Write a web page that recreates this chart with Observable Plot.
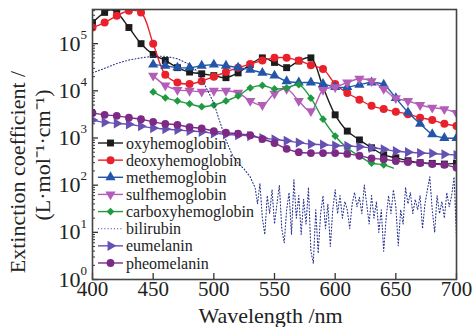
<!DOCTYPE html>
<html><head><meta charset="utf-8">
<script src="https://cdn.jsdelivr.net/npm/d3@7"></script>
<script src="https://cdn.jsdelivr.net/npm/@observablehq/plot@0.6"></script>
<style>body{margin:0;background:#fff}svg{display:block}</style>
</head><body><div id="chart"></div>
<script>
// ---- tick labels ----
const xTicks = [400, 450, 500, 550, 600, 650, 700];
const yTicks = [1, 10, 100, 1000, 10000, 100000];
const yExp = ["0", "1", "2", "3", "4", "5"];
const xTitle = "Wavelength /nm";
const yTitle1 = "Extinction coefficient /";
const yTitle2 = "(L·mol⁻¹·cm⁻¹)";

// ---- series ----
const names = ["oxyhemoglobin","deoxyhemoglobin","methemoglobin","sulfhemoglobin","carboxyhemoglobin","bilirubin","eumelanin","pheomelanin"];

const oxyWl = [400,410,415,420,430,440,450,460,470,480,490,500,510,520,530,540,550,560,570,580,590,600,610,620,630,640,650,660,670,680,690,700];
const oxyVal = [2.8e5,4.6e5,5.2e5,4.6e5,2.2e5,1.0e5,5.9e4,4.4e4,3.1e4,2.5e4,2.3e4,2.1e4,1.9e4,2.4e4,3.6e4,5.0e4,4.0e4,3.1e4,4.3e4,5.0e4,1.2e4,3.1e3,1.4e3,910,620,440,380,330,300,290,280,290];

const deoxyWl = [400,410,420,430,440,450,460,470,480,490,500,510,520,530,540,550,560,570,580,590,600,610,620,630,640,650,660,670,680,690,700];
const deoxyVal = [2.2e5,2.8e5,3.9e5,5.0e5,4.6e5,1.0e5,2.2e4,1.5e4,1.4e4,1.6e4,2.0e4,2.5e4,3.1e4,3.7e4,4.4e4,5.0e4,5.0e4,4.4e4,3.5e4,2.9e4,1.4e4,9.0e3,6.5e3,4.8e3,4.1e3,3.6e3,3.2e3,2.7e3,2.4e3,2.0e3,1.8e3];

const metWl = [450,460,470,480,490,500,510,520,530,540,550,560,570,580,590,600,610,620,630,640,650,660,670,680,690,700];
const metVal = [3.6e4,3.4e4,3.1e4,3.1e4,3.4e4,3.6e4,3.4e4,3.1e4,2.8e4,2.4e4,2.1e4,1.6e4,1.5e4,1.5e4,1.4e4,1.2e4,1.2e4,1.35e4,1.5e4,1.35e4,7.0e3,3.5e3,2.0e3,1.2e3,1.0e3,1.0e3];

const sulfWl = [450,460,470,480,490,500,510,520,530,540,550,560,570,580,590,600,610,620,630,640,650,660,670,680,690,700];
const sulfVal = [2.1e4,1.3e4,1.05e4,1.0e4,9.6e3,1.0e4,1.0e4,9.1e3,6.1e3,5.0e3,8.7e3,1.1e4,6.1e3,3.7e3,1.05e4,1.2e4,1.5e4,1.8e4,1.6e4,1.1e4,7.0e3,6.1e3,5.0e3,4.4e3,4.1e3,3.4e3];

const carbWl = [450,460,470,480,490,500,510,520,530,540,550,560,570,580,590,600,610,620,630,640,648];
const carbVal = [9.5e3,7.1e3,6.1e3,5.3e3,4.6e3,5.0e3,6.1e3,7.8e3,1.15e4,1.3e4,1.1e4,1.15e4,1.35e4,7.0e3,2.5e3,1.1e3,610,415,295,270,230];

const bilWl = [400,410,420,430,440,450,460,470,480,485,490,495,500,505,510,515,520,525,530,533,
  534,536,538,540,542,544,546,548,550,552,554,556,558,560,562,564,566,568,570,572,574,576,578,580,582,584,586,588,590,592,594,596,598,600,602,604,606,608,610,612,614,616,618,620,622,624,626,628,630,632,634,636,638,640,642,644,646,648,650,652,654,656,658,660,662,664,666,668,670,672,674,676,678,680,682,684,686,688,690,692,694,696,698,700];
const bilVal = [2.4e4,3.0e4,3.8e4,4.5e4,5.0e4,5.4e4,5.4e4,4.8e4,3.6e4,2.8e4,1.8e4,1.0e4,5.5e3,2.2e3,900,450,290,220,150,100,
  90,40,110,20,9,60,25,80,15,40,
  100,12,6,30,70,9,130,20,60,9,
  50,15,90,4,2.2,30,3.6,25,60,12,
  40,5,30,80,25,60,20,45,30,12,
  40,70,35,55,25,100,40,15,60,20,
  45,10,30,4,20,60,25,80,35,5.2,
  30,15,90,40,70,25,50,30,60,12,
  40,80,150,30,10,60,25,45,20,70,
  35,60,150,8];

const eumWl = [400,410,420,430,440,450,460,470,480,490,500,510,520,530,540,550,560,570,580,590,600,610,620,630,640,650,660,670,680,690,700];
const eumVal = [2400,2140,2040,1950,1780,1620,1550,1480,1410,1350,1260,1200,1150,1100,1000,930,870,800,740,720,690,680,650,620,575,525,500,480,470,450,435];

const pheoWl = [400,410,420,430,440,450,460,470,480,490,500,510,520,530,540,550,560,570,580,590,600,610,620,630,640,650,660,670,680,690,700];
const pheoVal = [3400,3100,2950,2700,2500,2200,2000,1900,1700,1600,1400,1300,1230,1150,950,780,590,500,480,480,480,460,420,370,355,325,310,295,280,270,235];

const colors = ["#1c1c1c","#e8212b","#2356a8","#b35db9","#1f9a40","#2b358f","#6650b2","#7c2a86"];

// custom symbols
const triDown = {draw(ctx, size){ const a = Math.sqrt(4*size/Math.sqrt(3)), h = a*Math.sqrt(3)/2;
  ctx.moveTo(0, 2*h/3); ctx.lineTo(-a/2, -h/3); ctx.lineTo(a/2, -h/3); ctx.closePath(); }};
const triRight = {draw(ctx, size){ const a = Math.sqrt(4*size/Math.sqrt(3)), h = a*Math.sqrt(3)/2;
  ctx.moveTo(2*h/3, 0); ctx.lineTo(-h/3, -a/2); ctx.lineTo(-h/3, a/2); ctx.closePath(); }};
const triUp = {draw(ctx, size){ const a = Math.sqrt(4*size/Math.sqrt(3)), h = a*Math.sqrt(3)/2;
  ctx.moveTo(0, -2*h/3); ctx.lineTo(-a/2, h/3); ctx.lineTo(a/2, h/3); ctx.closePath(); }};
const symbols = [d3.symbolSquare, d3.symbolCircle, triUp, triDown, d3.symbolDiamond2, null, triRight, d3.symbolCircle];
const radii = [3.9, 4.0, 3.8, 3.8, 3.5, 0, 3.8, 3.9];

const series = [
  [oxyWl, oxyVal], [deoxyWl, deoxyVal], [metWl, metVal], [sulfWl, sulfVal],
  [carbWl, carbVal], [bilWl, bilVal], [eumWl, eumVal], [pheoWl, pheoVal]
].map(([wl, val], k) => wl.map((w, i) => ({name: names[k], wl: w, v: val[i]})));

const W = 476, H = 327, mL = 92, mR = 20, mT = 9, mB = 48;
const font = "Liberation Serif, Times New Roman, serif";

const minor = [];
yTicks.forEach(t => { for (let m = 2; m <= 9; m++) if (t*m <= 5.3e5) minor.push(t*m); });

const bilDash = "1,2.2";
const marks = [];
series.forEach((data, k) => {
  if (k === 5) {
    marks.push(Plot.line(data, {x: "wl", y: "v", stroke: colors[k], strokeWidth: 1.1, strokeDasharray: bilDash, curve: "linear", clip: true}));
  } else {
    marks.push(Plot.line(data, {x: "wl", y: "v", stroke: colors[k], strokeWidth: 1.4, curve: "catmull-rom", clip: true}));
    marks.push(Plot.dot(data.filter(d => d.wl % 10 === 0), {x: "wl", y: "v", r: radii[k], symbol: symbols[k], fill: colors[k], stroke: null, clip: true}));
  }
});

const plot = Plot.plot({
  width: W, height: H,
  marginLeft: mL, marginRight: mR, marginTop: mT, marginBottom: mB,
  style: {fontFamily: font, background: "#fff", color: "#222"},
  x: {domain: [400, 700], axis: null},
  y: {type: "log", domain: [1, 5.3e5], axis: null},
  marks: [
    ...marks,
    Plot.tickX(xTicks, {x: d => d, stroke: "#333", strokeWidth: 1.3, insetTop: (H - mT - mB) - 6}),
    Plot.tickY(yTicks, {y: d => d, stroke: "#333", strokeWidth: 1.3, insetRight: (W - mL - mR) - 6}),
    Plot.tickY(minor, {y: d => d, stroke: "#333", strokeWidth: 1, insetRight: (W - mL - mR) - 3}),
    Plot.frame({stroke: "#444", strokeWidth: 1.6}),
    Plot.text(xTicks, {x: d => d, frameAnchor: "bottom", text: d => String(d), lineAnchor: "top", dy: 2, fontSize: 21, fill: "#222"}),
    Plot.text(yTicks, {y: d => d, frameAnchor: "left", text: () => "10", textAnchor: "end", dx: -12, fontSize: 22, fill: "#222"}),
    Plot.text(yTicks, {y: d => d, frameAnchor: "left", text: (d, i) => yExp[i], textAnchor: "start", dx: -12, dy: -9, fontSize: 13, fill: "#222"}),
    Plot.text([xTitle], {frameAnchor: "bottom", text: d => d, lineAnchor: "middle", dy: 36, dx: -4, fontSize: 22, fill: "#222"})
  ]
});

const svg = d3.select(plot);
// rotated y-axis title (two lines)
const yt = svg.append("g").attr("font-family", font).attr("font-size", 22).attr("fill", "#222").attr("text-anchor", "middle");
yt.append("text").attr("transform", "translate(17,172) rotate(-90)").attr("dy", "0.35em").text(yTitle1);
yt.append("text").attr("transform", "translate(42,155) rotate(-90)").attr("dy", "0.35em").text(yTitle2);

// legend inside plot
const lg = svg.append("g").attr("font-family", font).attr("font-size", 16).attr("text-anchor", "start");
names.forEach((n, k) => {
  const y = 143 + 17.14 * k;
  const ln = lg.append("line").attr("x1", 98).attr("x2", 123).attr("y1", y).attr("y2", y)
    .attr("stroke", colors[k]).attr("stroke-width", k === 5 ? 1.1 : 1.4);
  if (k === 5) ln.attr("stroke-dasharray", bilDash);
  else lg.append("path").attr("transform", `translate(110.5,${y})`)
    .attr("d", d3.symbol(symbols[k], Math.PI * radii[k] * radii[k])()).attr("fill", colors[k]);
  lg.append("text").attr("x", 126).attr("y", y).attr("dy", "0.35em").attr("fill", "#222").text(n);
});

document.getElementById("chart").appendChild(plot);
</script>
</body></html>
